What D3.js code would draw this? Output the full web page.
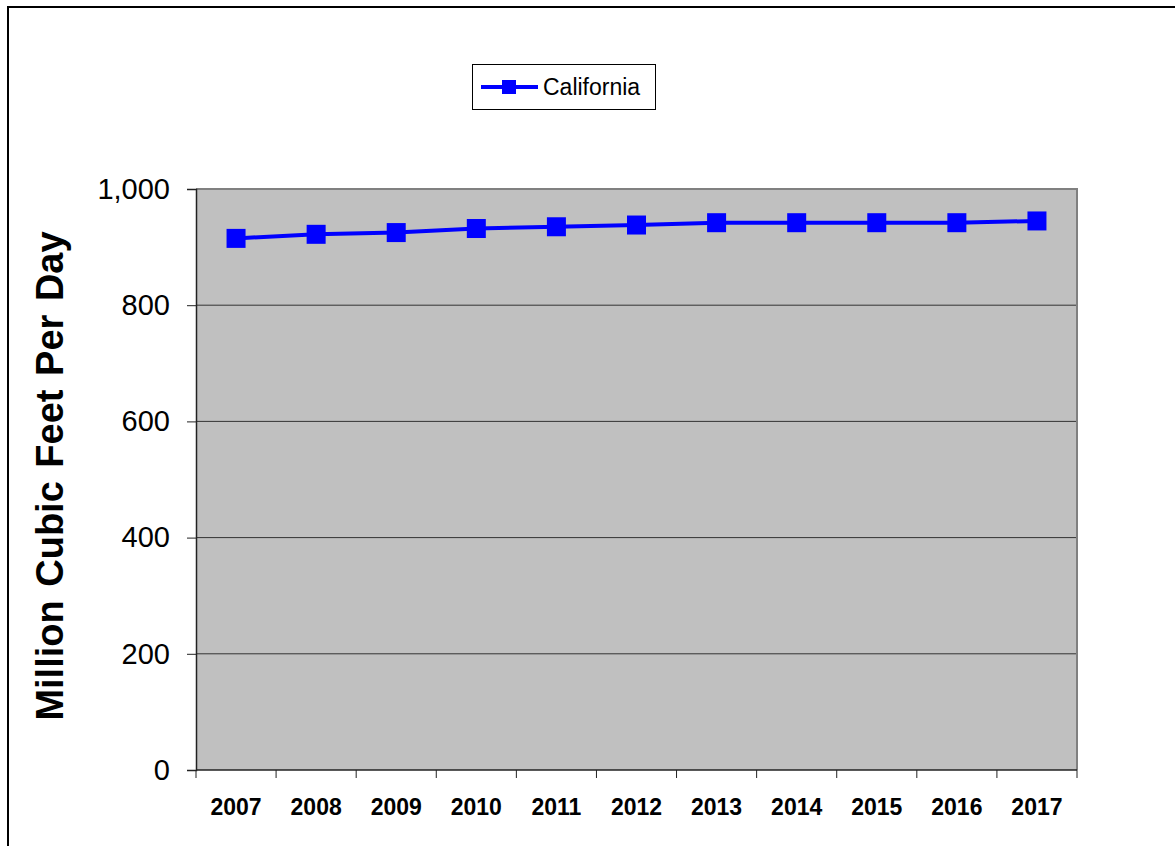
<!DOCTYPE html>
<html>
<head>
<meta charset="utf-8">
<script src="https://cdn.jsdelivr.net/npm/d3@7"></script>
<style>
  html, body { margin: 0; padding: 0; background: #fff; }
  svg { display: block; font-family: Arial, "Liberation Sans", sans-serif; }
</style>
</head>
<body>
<svg id="chart" width="1175" height="846"></svg>
<script>
// Natural gas consumption, California (million cubic feet per day)
const years = ["2007", "2008", "2009", "2010", "2011", "2012", "2013", "2014", "2015", "2016", "2017"];
const california = [915, 922, 925, 932, 935, 938, 942, 942, 942, 942, 945];
const yTicks = [0, 200, 400, 600, 800, 1000];
const seriesName = "California";
const yTitle = "Million Cubic Feet Per Day";

const svg = d3.select("#chart");
const plot = { left: 196, top: 189, right: 1077, bottom: 770 };

// outer frame
svg.append("rect")
  .attr("x", 8).attr("y", 7)
  .attr("width", 1200).attr("height", 900)
  .attr("fill", "none").attr("stroke", "#000").attr("stroke-width", 2);

const x = d3.scaleBand().domain(years).range([plot.left, plot.right]).padding(0);
const y = d3.scaleLinear().domain([0, 1000]).range([plot.bottom, plot.top]);

// plot background
svg.append("rect")
  .attr("x", plot.left).attr("y", plot.top)
  .attr("width", plot.right - plot.left).attr("height", plot.bottom - plot.top)
  .attr("fill", "#c0c0c0");

// horizontal gridlines
svg.append("g").selectAll("line")
  .data(yTicks.filter(d => d > 0 && d < 1000))
  .join("line")
  .attr("x1", plot.left).attr("x2", plot.right)
  .attr("y1", d => y(d)).attr("y2", d => y(d))
  .attr("stroke", "#333").attr("stroke-width", 1);

// plot border (top and right)
svg.append("path")
  .attr("d", `M${plot.left},${plot.top}H${plot.right}V${plot.bottom}`)
  .attr("fill", "none").attr("stroke", "#808080").attr("stroke-width", 2);

// y axis
const yAxis = d3.axisLeft(y).tickValues(yTicks).tickSize(9).tickPadding(17)
  .tickFormat(d3.format(","));
const gy = svg.append("g").attr("transform", `translate(${plot.left},0)`).call(yAxis);
gy.select(".domain").attr("stroke", "#222").attr("stroke-width", 1.5);
gy.selectAll(".tick line").attr("stroke", "#222");
gy.selectAll("text").attr("font-size", 29).attr("fill", "#000")
  .attr("font-family", "Arial, 'Liberation Sans', sans-serif");

// x axis: ticks at category boundaries, labels centred in each band
const gx = svg.append("g").attr("transform", `translate(0,${plot.bottom})`);
gx.append("line")
  .attr("x1", plot.left).attr("x2", plot.right)
  .attr("stroke", "#222").attr("stroke-width", 1.5);
const bounds = years.map(d => x(d)).concat([plot.right]);
gx.selectAll("line.tk").data(bounds).join("line").attr("class", "tk")
  .attr("x1", d => d).attr("x2", d => d)
  .attr("y1", 0).attr("y2", 8)
  .attr("stroke", "#222");
gx.selectAll("text").data(years).join("text")
  .attr("x", d => x(d) + x.bandwidth() / 2)
  .attr("y", 45)
  .attr("text-anchor", "middle")
  .attr("font-size", 23).attr("font-weight", "bold")
  .text(d => d);

// y axis title
svg.append("text")
  .attr("transform", `translate(63,${(232 + 720) / 2}) rotate(-90)`)
  .attr("text-anchor", "middle")
  .attr("font-size", 38).attr("font-weight", "bold")
  .attr("word-spacing", 3)
  .text(yTitle);

// series line
const cx = d => x(d) + x.bandwidth() / 2;
const line = d3.line().x((d, i) => cx(years[i])).y(d => y(d));
svg.append("path")
  .datum(california)
  .attr("d", line)
  .attr("fill", "none").attr("stroke", "#0000ff").attr("stroke-width", 4);

// square markers
const ms = 19;
svg.append("g").selectAll("rect")
  .data(california)
  .join("rect")
  .attr("x", (d, i) => cx(years[i]) - ms / 2)
  .attr("y", d => y(d) - ms / 2)
  .attr("width", ms).attr("height", ms)
  .attr("fill", "#0000ff");

// legend
const lg = svg.append("g");
lg.append("rect")
  .attr("x", 472.5).attr("y", 64.5).attr("width", 183).attr("height", 45)
  .attr("fill", "#fff").attr("stroke", "#000").attr("stroke-width", 1);
lg.append("line")
  .attr("x1", 481).attr("x2", 538).attr("y1", 87).attr("y2", 87)
  .attr("stroke", "#0000ff").attr("stroke-width", 4);
lg.append("rect")
  .attr("x", 502).attr("y", 80).attr("width", 14).attr("height", 14)
  .attr("fill", "#0000ff");
lg.append("text")
  .attr("x", 543).attr("y", 95)
  .attr("font-size", 23)
  .text(seriesName);
</script>
</body>
</html>
